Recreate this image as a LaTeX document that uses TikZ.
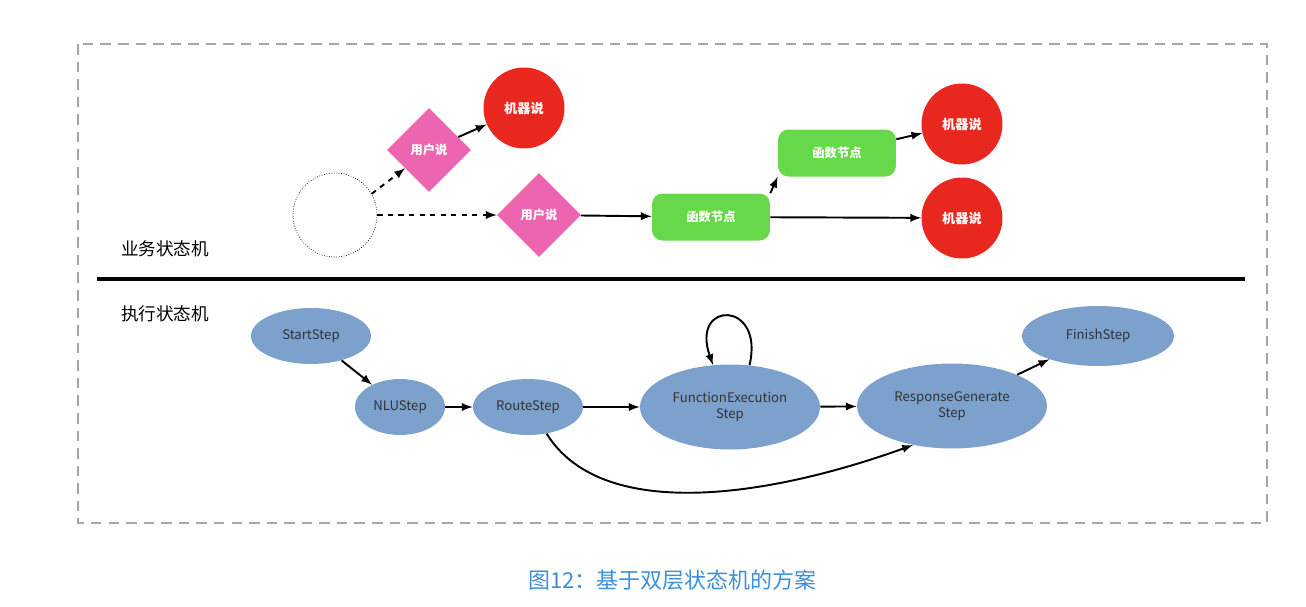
\documentclass[tikz,border=0pt]{standalone}
\usepackage{fontspec}
\setmainfont{Noto Sans CJK SC}
\usetikzlibrary{shapes,arrows,positioning,calc}

\definecolor{stepblue}{HTML}{7BA1CC}
\definecolor{saypink}{HTML}{EC65AE}
\definecolor{saidred}{HTML}{E8281F}
\definecolor{funcgreen}{HTML}{66D84A}
\definecolor{capblue}{HTML}{3D8FD9}

\tikzset{
    user/.style={diamond,fill=saypink,minimum size=1.68cm,inner sep=0pt,text=white,font=\fontsize{7}{8}\selectfont\bfseries},
    robot/.style={circle,fill=saidred,minimum size=1.62cm,inner sep=0pt,text=white,font=\fontsize{7.5}{8}\selectfont\bfseries},
    func/.style={rectangle,rounded corners=6pt,fill=funcgreen,minimum width=2.36cm,minimum height=0.94cm,text=white,font=\fontsize{7}{8}\selectfont\bfseries},
    phase/.style={ellipse,fill=stepblue,inner sep=0pt,align=center,text=black!80,font=\fontsize{7.5}{9.5}\selectfont},
    go/.style={-latex,line width=1.1pt},
    maybe/.style={-latex,line width=1.1pt,dashed},
}

\begin{document}
\begin{tikzpicture}[x=0.02cm,y=-0.02cm]
        \useasboundingbox (0,0) rectangle (1306,606);
        \draw[gray!70,line width=1.5pt,dash pattern=on 6pt off 4pt] (78,44) rectangle (1267,523);
        % business state machine
        \node[circle,draw,densely dotted,minimum size=1.68cm] (start) at (335,215) {};
        \node[user] (say1) at (429,150) {用户说};
        \node[user] (say2) at (539,215) {用户说};
        \node[robot] (robot1) at (524,108) {机器说};
        \node[func] (func1) at (711,217) {函数节点};
        \node[func] (func2) at (837,153) {函数节点};
        \node[robot] (robot2) at (962,124) {机器说};
        \node[robot] (robot3) at (962,218) {机器说};
        \draw[maybe] (start.30) -- (say1);
        \draw[maybe] (start.east) -- (say2);
        \draw[go] (say1) -- (robot1);
        \draw[go] (say2) -- (func1);
        \draw[go] (func1.north east) -- (func2.south west);
        \draw[go] (func2) -- (robot2);
        \draw[go] (func1) -- (robot3);
        \node[font=\fontsize{10}{12}\selectfont] (biz) at (165,249) {业务状态机};
        \coordinate (sepl) at (97,279);
        \coordinate (sepr) at (1245,279);
        \draw[line width=2pt] (sepl) -- (sepr);
        % execution state machine
        \node[font=\fontsize{10}{12}\selectfont] (exe) at (165,314) {执行状态机};
        \node[phase,minimum width=2.4cm,minimum height=1.12cm] (startstep) at (311,336) {StartStep};
        \node[phase,minimum width=1.8cm,minimum height=1.12cm] (nlu) at (400,407) {NLUStep};
        \node[phase,minimum width=2.2cm,minimum height=1.12cm] (route) at (528,407) {RouteStep};
        \node[phase,minimum width=3.6cm,minimum height=1.7cm] (fe) at (730,407) {FunctionExecution\\Step};
        \node[phase,minimum width=3.8cm,minimum height=1.7cm] (rg) at (952,406) {ResponseGenerate\\Step};
        \node[phase,minimum width=3.04cm,minimum height=1.2cm] (finish) at (1098,336) {FinishStep};
        \draw[go] (startstep) -- (nlu);
        \draw[go] (nlu) -- (route);
        \draw[go] (route) -- (fe);
        \draw[go] (fe) -- (rg);
        \draw[go] (rg) -- (finish);
        \draw[go] (fe.65) .. controls (765,300) and (690,300) .. (fe.112);
        \draw[go] (route.-55) .. controls (600,520) and (760,500) .. (rg.-135);
        \node[text=capblue,font=\fontsize{12.5}{14}\selectfont] (cap) at (672,580) {图12：基于双层状态机的方案};
\end{tikzpicture}
\end{document}
